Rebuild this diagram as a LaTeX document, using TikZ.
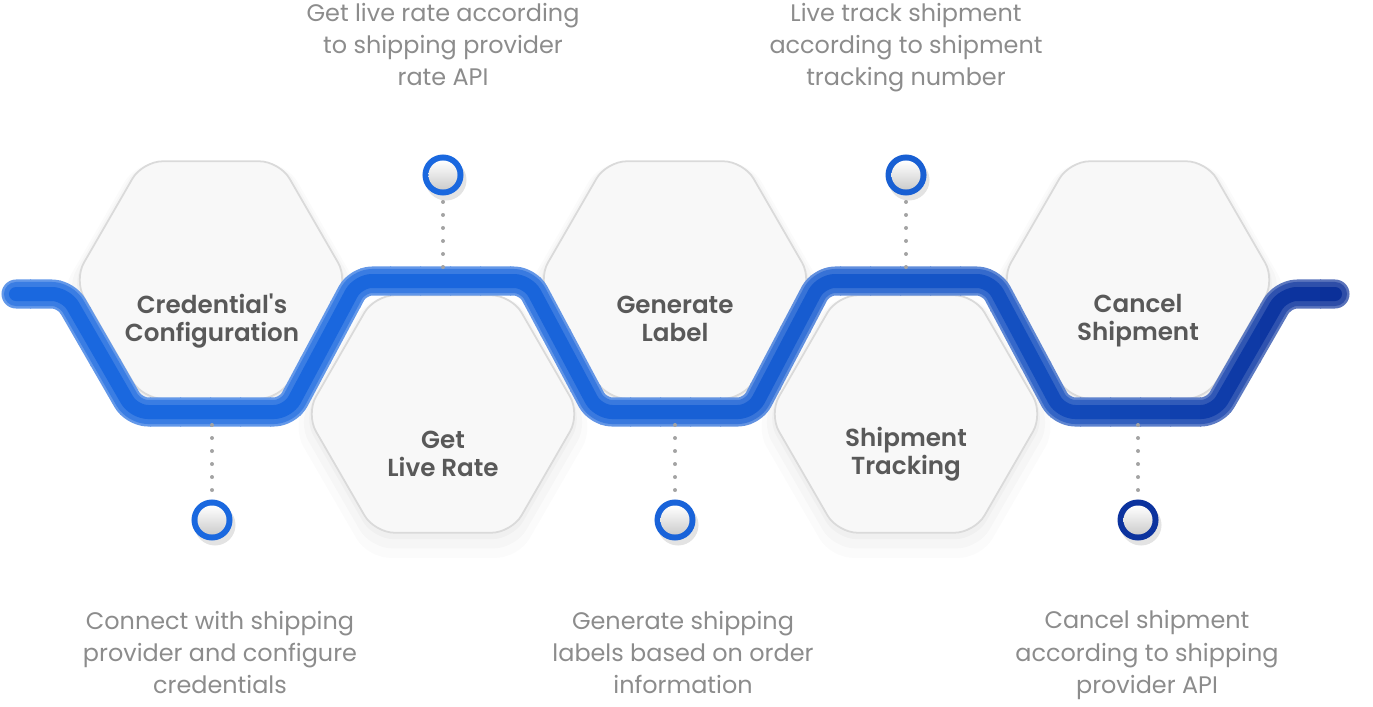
\documentclass[tikz,border=0pt]{standalone}
\usepackage{fontspec}
\setmainfont{Poppins}
\newfontfamily\labelfont{Poppins SemiBold}[Ligatures=TeXOff]
\usetikzlibrary{shapes.geometric,shadows}

\definecolor{hexfill}{HTML}{F8F8F8}
\definecolor{hexline}{HTML}{DADADA}
\definecolor{labelgray}{HTML}{595959}
\definecolor{descgray}{HTML}{8C8C8C}
\definecolor{dotgray}{HTML}{A3A3A3}
\definecolor{bandL}{HTML}{1A68DF}
\definecolor{bandR}{HTML}{0A2A92}

\tikzset{
  hexbox/.style={shape=regular polygon, regular polygon sides=6, minimum size=2.74cm,
    inner sep=0pt, outer sep=0pt, rounded corners=0.2cm, fill=hexfill, draw=hexline, line width=0.5pt,
    general shadow={fill=black, opacity=.015, shadow scale=1.10, shadow yshift=-0.12cm},
    general shadow={fill=black, opacity=.02, shadow scale=1.06, shadow yshift=-0.08cm},
    general shadow={fill=black, opacity=.025, shadow scale=1.02, shadow yshift=-0.04cm}},
  hextext/.style={text=labelgray, font=\labelfont\fontsize{7}{8}\selectfont, align=center},
  desc/.style={text=descgray, font=\fontsize{6.8}{9.1}\selectfont, align=center},
  ringdot/.style={circle, minimum size=0.41cm, inner sep=0pt,
    drop shadow={opacity=.22, shadow xshift=0.03cm, shadow yshift=-0.05cm}},
  dotcore/.style={circle, minimum size=0.29cm, inner sep=0pt, top color=white, bottom color=black!20},
  dotline/.style={draw=dotgray, line width=0.04cm, line cap=round, dash pattern=on 0pt off 0.13cm},
  bandglow/.style={line width=0.29cm, line cap=round, line join=round},
  bandmid/.style={line width=0.24cm, line cap=round, line join=round},
  bandcore/.style={line width=0.14cm, line cap=round, line join=round, xshift=-0.025cm, yshift=0.035cm},
}

\begin{document}
\begin{tikzpicture}[x=0.01cm,y=-0.01cm]
\useasboundingbox (0,0) rectangle (1373,706);

% hexagons
\node[hexbox] (h1) at (211,280) {};
\node[hexbox] (h3) at (675,280) {};
\node[hexbox] (h5) at (1138,280) {};
\node[hexbox] (h2) at (443,414) {};
\node[hexbox] (h4) at (906,414) {};

% the blue band, coloured strip by strip
\path[save path=\bandline, rounded corners=0.14cm] (16,294) -- (66,294) -- (134,412) -- (288,412)
  -- (358,281) -- (528,281) -- (598,412) -- (752,412) -- (821,281) -- (991,281)
  -- (1061,412) -- (1215,412) -- (1283,294) -- (1335,294);
\foreach \i in {0,...,45} {
  \pgfmathtruncatemacro{\mix}{100*((\i*30+15)/1373)^3}
  \colorlet{bandnow}{bandR!\mix!bandL}
  \begin{scope}
    \clip (\i*30,240) rectangle (\i*30+31,445);
    \draw[bandglow, draw=bandnow!68!white, use path=\bandline];
    \draw[bandmid, draw=bandnow!86!white, use path=\bandline];
    \draw[bandcore, draw=bandnow, use path=\bandline];
  \end{scope}
}

% dots and dotted lines
\coordinate (b1) at (443,267);
\coordinate (b2) at (906,267);
\coordinate (b3) at (212,425);
\coordinate (b4) at (675,425);
\coordinate (b5) at (1138,425);
\coordinate (p1) at (443,175);
\coordinate (p2) at (906,175);
\coordinate (p3) at (212,520);
\coordinate (p4) at (675,520);
\coordinate (p5) at (1138,520);
\draw[dotline] (b1) -- (p1);
\draw[dotline] (b2) -- (p2);
\draw[dotline] (b3) -- (p3);
\draw[dotline] (b4) -- (p4);
\draw[dotline] (b5) -- (p5);
\node[ringdot, fill=bandR!0!bandL] (r1) at (p1) {};
\node[ringdot, fill=bandR!15!bandL] (r2) at (p2) {};
\node[ringdot, fill=bandR!0!bandL] (r3) at (p3) {};
\node[ringdot, fill=bandR!8!bandL] (r4) at (p4) {};
\node[ringdot, fill=bandR!85!bandL] (r5) at (p5) {};
\node[dotcore] (c1) at (p1) {};
\node[dotcore] (c2) at (p2) {};
\node[dotcore] (c3) at (p3) {};
\node[dotcore] (c4) at (p4) {};
\node[dotcore] (c5) at (p5) {};

% labels
\node[hextext] (l1) at (212,321) {Credential's\\Configuration};
\node[hextext] (l3) at (675,319) {Generate\\Label};
\node[hextext] (l5) at (1138,321) {Cancel\\Shipment};
\node[hextext] (l2) at (443,454) {Get\\Live Rate};
\node[hextext] (l4) at (906,454) {Shipment\\Tracking};

\node[desc] (s1) at (443,45) {Get live rate according\\to shipping provider\\rate API};
\node[desc] (s2) at (906,48) {Live track shipment\\according to shipment\\tracking number};
\node[desc] (s3) at (220,652) {Connect with shipping\\provider and configure\\credentials};
\node[desc] (s4) at (683,652) {Generate shipping\\labels based on order\\information};
\node[desc] (s5) at (1147,655) {Cancel shipment\\according to shipping\\provider API};
\end{tikzpicture}
\end{document}
